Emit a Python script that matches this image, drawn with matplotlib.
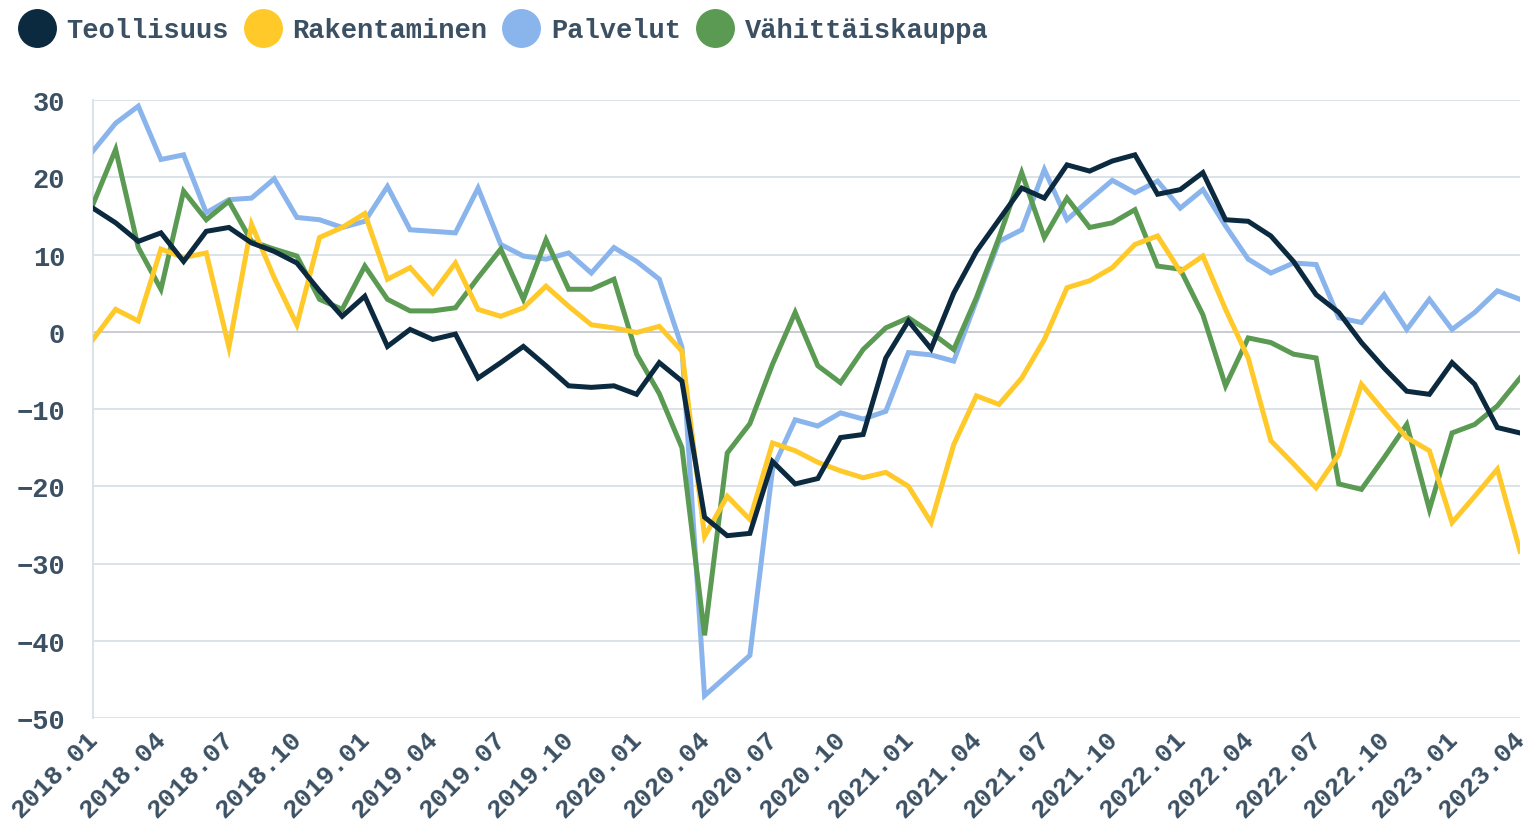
import matplotlib
matplotlib.use('Agg')
import matplotlib.pyplot as plt
import matplotlib.transforms as mtransforms
from matplotlib.lines import Line2D

# kuukaudet 2018.01 - 2023.04
months = [f'{y}.{m:02d}' for y in range(2018, 2024) for m in range(1, 13)][:64]

teollisuus = [16.0, 14.1, 11.7, 12.8, 9.1, 13.0, 13.5, 11.5, 10.4, 8.9, 5.3, 2.0, 4.6,
              -1.9, 0.3, -1.0, -0.3, -6.0, -4.0, -1.9, -4.4, -7.0, -7.2, -7.0, -8.1, -4.0,
              -6.4, -24.0, -26.4, -26.1, -16.8, -19.7, -19.0, -13.7, -13.3, -3.4, 1.4, -2.2,
              5.0, 10.4, 14.5, 18.6, 17.3, 21.6, 20.8, 22.1, 22.9, 17.8, 18.4, 20.6,
              14.5, 14.3, 12.4, 9.1, 4.8, 2.5, -1.4, -4.7, -7.7, -8.1, -4.0, -6.8, -12.4, -13.1]
rakentaminen = [-1.0, 2.9, 1.4, 10.7, 9.6, 10.2, -2.0, 13.9, 7.0, 0.9, 12.2, 13.5, 15.3,
                6.8, 8.3, 5.0, 8.9, 2.9, 2.0, 3.1, 5.9, 3.3, 0.9, 0.5, -0.1, 0.7,
                -2.5, -26.5, -21.3, -24.3, -14.4, -15.4, -16.9, -18.0, -18.9, -18.2, -20.0, -24.7,
                -14.6, -8.3, -9.4, -6.0, -1.0, 5.7, 6.6, 8.3, 11.3, 12.4, 7.8, 9.8,
                2.9, -3.4, -14.1, -17.1, -20.2, -15.9, -6.8, -10.3, -13.7, -15.4, -24.7, -21.3, -17.8, -28.4]
palvelut = [23.4, 27.0, 29.2, 22.3, 22.9, 15.4, 17.1, 17.3, 19.8, 14.8, 14.5, 13.5, 14.3,
            18.8, 13.2, 13.0, 12.8, 18.6, 11.3, 9.8, 9.4, 10.2, 7.6, 10.9, 9.1, 6.8,
            -2.0, -47.1, -44.5, -41.9, -17.8, -11.4, -12.2, -10.5, -11.3, -10.3, -2.7, -3.0,
            -3.8, 4.0, 11.7, 13.2, 21.0, 14.5, 17.1, 19.6, 18.0, 19.5, 16.0, 18.4,
            13.7, 9.4, 7.6, 8.9, 8.7, 1.8, 1.2, 4.8, 0.3, 4.2, 0.3, 2.5, 5.3, 4.2]
vahittaiskauppa = [16.5, 23.6, 10.9, 5.5, 18.2, 14.5, 16.9, 11.7, 10.7, 9.8, 4.2, 2.9, 8.5,
                   4.2, 2.7, 2.7, 3.1, 7.0, 10.7, 4.2, 11.9, 5.5, 5.5, 6.8, -2.9, -8.0,
                   -15.0, -39.3, -15.7, -11.9, -4.2, 2.5, -4.4, -6.6, -2.3, 0.5, 1.8, -0.1,
                   -2.3, 4.4, 12.2, 20.6, 12.2, 17.3, 13.5, 14.1, 15.8, 8.5, 8.1, 2.2,
                   -7.0, -0.8, -1.4, -2.9, -3.4, -19.7, -20.4, -16.3, -12.0, -23.0, -13.1, -12.0, -9.6, -6.0]

names = ['Teollisuus', 'Rakentaminen', 'Palvelut', 'Vähittäiskauppa']
colors = ['#0b2a3f', '#ffc929', '#8ab4ec', '#5a9a52']
series = [teollisuus, rakentaminen, palvelut, vahittaiskauppa]

text_color = '#3b5062'
font = ['Liberation Mono', 'DejaVu Sans Mono']

fig = plt.figure(figsize=(15.29, 8.37), dpi=100)
ax = fig.add_axes([93 / 1529, 1 - 719 / 837, (1520 - 93) / 1529, (719 - 101) / 837])

x = list(range(len(months)))
# piirtojärjestys: palvelut, kauppa, rakentaminen, teollisuus päällimmäisenä
for k in [2, 3, 1, 0]:
    ax.plot(x, series[k], color=colors[k], lw=3.6, solid_joinstyle='miter', zorder=3)

ax.set_xlim(0, len(months) - 1)
ax.set_ylim(-50, 30)
ax.set_yticks(range(-50, 31, 10))
ax.yaxis.grid(True, color='#dce3e8', lw=1.4, zorder=1)
ax.axhline(0, color='#c9cdd1', lw=1.4, zorder=2)

ax.set_xticks(x[::3])
ax.set_xticklabels(months[::3], rotation=45, ha='right', va='top', rotation_mode='anchor')

for s in ['top', 'right', 'bottom']:
    ax.spines[s].set_visible(False)
ax.spines['left'].set_color('#dce3e8')
ax.spines['left'].set_linewidth(1.4)
ax.tick_params(length=0, labelsize=19.5, labelcolor=text_color)
ax.tick_params(axis='y', pad=20)
ax.tick_params(axis='x', pad=6)
for lab in ax.get_yticklabels():
    lab.set_family(font)
    lab.set_fontweight('bold')
# vinot kuukausiotsikot hieman vasemmalle, ettei viimeinen leikkaudu
shift = mtransforms.ScaledTranslation(-7 / 100, 0, fig.dpi_scale_trans)
for lab in ax.get_xticklabels():
    lab.set_family(font)
    lab.set_fontweight('bold')
    lab.set_fontsize(19)
    lab.set_transform(lab.get_transform() + shift)

handles = [Line2D([], [], ls='', marker='o', ms=27, color=c) for c in colors]
leg = fig.legend(handles, names, loc='upper left', bbox_to_anchor=(19 / 1529, 1 - 18 / 837),
                 ncol=4, frameon=False, handlelength=1.3, handletextpad=0.45,
                 columnspacing=0.6, borderpad=0, borderaxespad=0,
                 prop={'family': font, 'weight': 'bold', 'size': 19.5})
for t in leg.get_texts():
    t.set_color(text_color)

fig.savefig('out.png', dpi=100)
